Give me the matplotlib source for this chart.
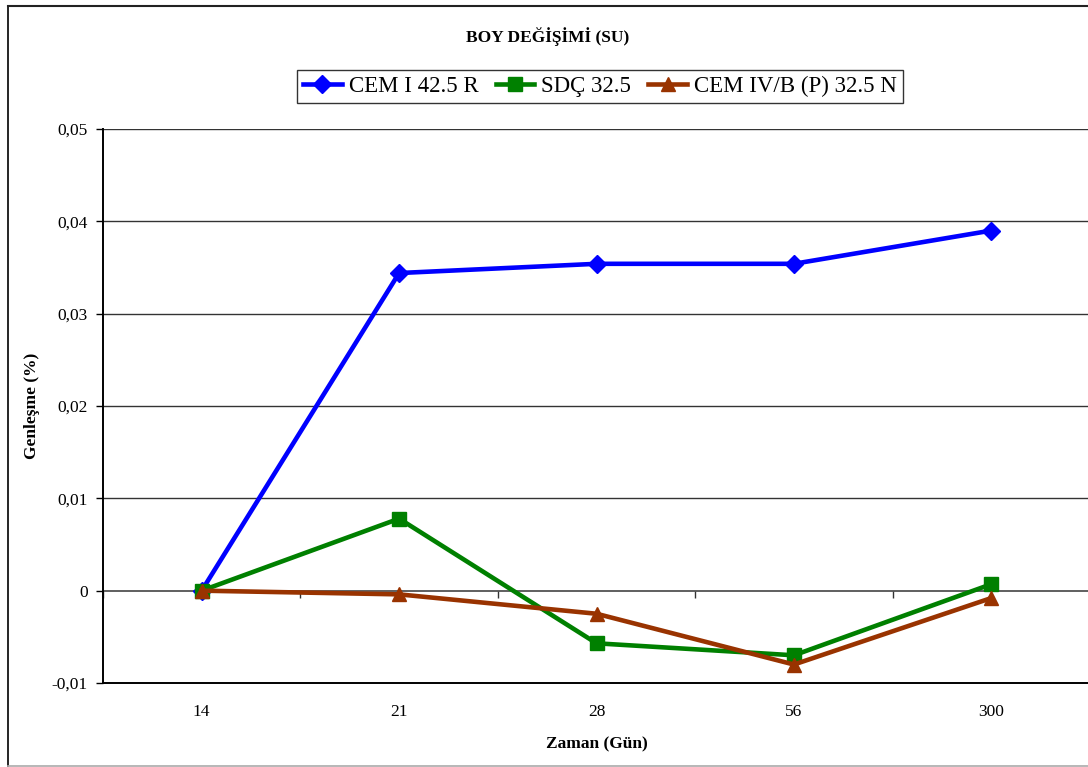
import matplotlib
matplotlib.use("Agg")
import matplotlib.pyplot as plt
from matplotlib.lines import Line2D

plt.rcParams['font.family'] = ['Liberation Serif', 'DejaVu Serif']

# Data
days = ["14", "21", "28", "56", "300"]
cem_i = [0.0, 0.0344, 0.0354, 0.0354, 0.0390]
sdc = [0.0, 0.0078, -0.0057, -0.0070, 0.0007]
cem_iv = [0.0, -0.0004, -0.0025, -0.0080, -0.0008]
series_names = ["CEM I 42.5 R", "SDÇ 32.5", "CEM IV/B (P) 32.5 N"]
y_ticks = [-0.01, 0.0, 0.01, 0.02, 0.03, 0.04, 0.05]
y_tick_labels = ["-0,01", "0", "0,01", "0,02", "0,03", "0,04", "0,05"]

W, H = 1088, 767
fig = plt.figure(figsize=(W / 100, H / 100), dpi=100)

# outer chart frame
fig.add_artist(Line2D([7.5 / W, 7.5 / W], [1 - 5.5 / H, 1 - 765.5 / H], color="black", lw=1.2, transform=fig.transFigure))
fig.add_artist(Line2D([7.5 / W, 1.0], [1 - 5.5 / H, 1 - 5.5 / H], color="#222222", lw=1.5, transform=fig.transFigure))
fig.add_artist(Line2D([7.5 / W, 1.0], [1 - 765.5 / H, 1 - 765.5 / H], color="#aaaaaa", lw=1.2, transform=fig.transFigure))

left, right, top, bottom = 103, 1090, 129, 683
ax = fig.add_axes([left / W, 1 - bottom / H, (right - left) / W, (bottom - top) / H])

x = list(range(len(days)))
ax.plot(x, cem_i, color="#0000FF", lw=3.3, marker="D", markersize=9, label=series_names[0], zorder=3)
ax.plot(x, sdc, color="#008000", lw=3.3, marker="s", markersize=10, label=series_names[1], zorder=4)
ax.plot(x, cem_iv, color="#993300", lw=3.3, marker="^", markersize=10.5, label=series_names[2], zorder=5)

ax.set_xlim(-0.5, len(days) - 0.5)
ax.set_ylim(-0.01, 0.05)
ax.set_yticks(y_ticks)
ax.set_yticklabels(y_tick_labels, fontsize=12.5)
ax.set_xticks(x)
ax.set_xticklabels(days, fontsize=12.5)
ax.tick_params(axis="x", length=0, pad=15)
ax.tick_params(axis="y", length=5, width=1, direction="out", pad=6)

for v in y_ticks[2:]:
    ax.axhline(v, color="#333333", lw=1.0, zorder=1)

for s in ["top", "right"]:
    ax.spines[s].set_visible(False)
ax.spines["left"].set_linewidth(1.4)
ax.spines["bottom"].set_linewidth(1.4)

# category axis crossing at zero, with boundary tick marks
sec = ax.secondary_xaxis(1 / 6)
sec.set_xticks([i + 0.5 for i in range(-1, len(days))])
sec.set_xticklabels([])
sec.tick_params(axis="x", length=5, width=1, direction="out", color="#333333")
sec.spines["bottom"].set_color("#444444")
sec.spines["bottom"].set_linewidth(1.2)

ax.set_xlabel("Zaman (Gün)", fontsize=12.5, fontweight="bold", labelpad=12)
ax.set_ylabel("Genleşme (%)", fontsize=12.5, fontweight="bold", labelpad=8)

fig.text(548 / W, 1 - 37 / H, "BOY DEĞİŞİMİ (SU)", fontsize=12.5, fontweight="bold", ha="center", va="center")

leg = fig.legend(loc="center", bbox_to_anchor=(600 / W, 1 - 86.5 / H), ncol=3, fontsize=16.5,
                 frameon=True, fancybox=False, edgecolor="black", handlelength=1.7,
                 handletextpad=0.3, columnspacing=0.75, borderpad=0.25, borderaxespad=0)
leg.get_frame().set_linewidth(1.0)

fig.savefig("out.png", dpi=100)
